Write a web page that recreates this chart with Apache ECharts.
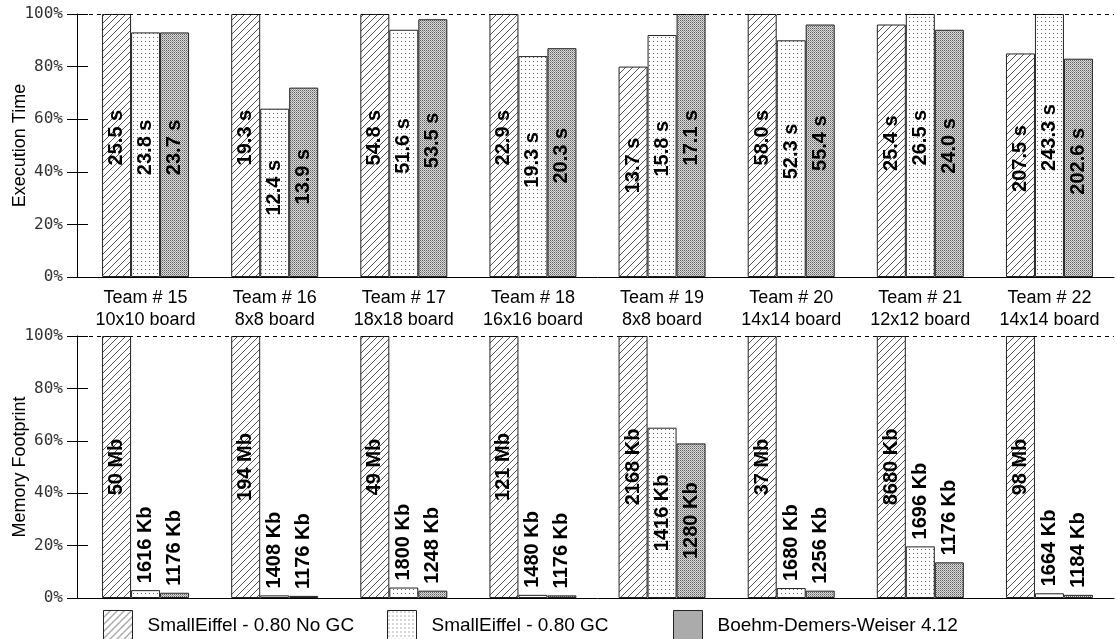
<!DOCTYPE html>
<html>
<head>
<meta charset="utf-8">
<script src="https://cdn.jsdelivr.net/npm/echarts@6/dist/echarts.min.js"></script>
<style>
html,body{margin:0;padding:0;background:#fff;}
#chart{width:1117px;height:639px;}
</style>
</head>
<body>
<div id="chart"></div>
<script>
// ---------- data ----------
const teams = ['Team # 15','Team # 16','Team # 17','Team # 18','Team # 19','Team # 20','Team # 21','Team # 22'];
const boards = ['10x10 board','8x8 board','18x18 board','16x16 board','8x8 board','14x14 board','12x12 board','14x14 board'];
const seriesNames = ['SmallEiffel - 0.80 No GC','SmallEiffel - 0.80 GC','Boehm-Demers-Weiser 4.12'];

// Execution time (% of slowest in group)
const timeNoGC = [100,100,100,100,80,100,96,85];
const timeGC   = [93,64,94,84,92,90,100,100];
const timeBDW  = [93,72,98,87,100,96,94,83];
const timeLabelNoGC = ['25.5 s','19.3 s','54.8 s','22.9 s','13.7 s','58.0 s','25.4 s','207.5 s'];
const timeLabelGC   = ['23.8 s','12.4 s','51.6 s','19.3 s','15.8 s','52.3 s','26.5 s','243.3 s'];
const timeLabelBDW  = ['23.7 s','13.9 s','53.5 s','20.3 s','17.1 s','55.4 s','24.0 s','202.6 s'];

// Memory footprint (% of largest in group)
const memNoGC = [100,100,100,100,100,100,100,100];
const memGC   = [3,1,4,1.2,65,3.8,19.7,1.8];
const memBDW  = [2,0.8,2.8,1,59,2.8,13.6,1.2];
const memLabelNoGC = ['50 Mb','194 Mb','49 Mb','121 Mb','2168 Kb','37 Mb','8680 Kb','98 Mb'];
const memLabelGC   = ['1616 Kb','1408 Kb','1800 Kb','1480 Kb','1416 Kb','1680 Kb','1696 Kb','1664 Kb'];
const memLabelBDW  = ['1176 Kb','1176 Kb','1248 Kb','1176 Kb','1280 Kb','1256 Kb','1176 Kb','1184 Kb'];

// ---------- layout ----------
const GRID_LEFT = 81, GRID_RIGHT = 3, AXIS_OFFSET = 4;
const GRIDS = [{ top: 14, height: 263 }, { top: 336, height: 262 }];

// ---------- patterns ----------
function tile(w, h, draw) {
  const c = document.createElement('canvas');
  c.width = w; c.height = h;
  const ctx = c.getContext('2d');
  draw(ctx);
  return c;
}
const hatch = tile(7, 7, ctx => {
  ctx.fillStyle = '#fff'; ctx.fillRect(0, 0, 7, 7);
  ctx.fillStyle = '#555';
  for (let i = 0; i < 7; i++) ctx.fillRect(i, 6 - i, 1, 1);
});
const dots = tile(4, 4, ctx => {
  ctx.fillStyle = '#fff'; ctx.fillRect(0, 0, 4, 4);
  ctx.fillStyle = '#666'; ctx.fillRect(1, 1, 1, 1);
});
const dense = tile(2, 2, ctx => {
  ctx.fillStyle = '#dadada'; ctx.fillRect(0, 0, 2, 2);
  ctx.fillStyle = '#606060'; ctx.fillRect(0, 0, 1, 1);
  ctx.fillStyle = '#9a9a9a'; ctx.fillRect(1, 1, 1, 1);
});
const patterns = [hatch, dots, dense];

const FONT = 'Liberation Sans, Arial, sans-serif';
const catLabels = teams.map((t, i) => t + '\n' + boards[i]);

function barSeries(idx, gridIdx, values, labels) {
  const s = {
    name: seriesNames[idx],
    type: 'bar',
    xAxisIndex: gridIdx,
    yAxisIndex: gridIdx * 2,
    barWidth: 29,
    barGap: '0%',
    itemStyle: {
      color: { image: patterns[idx], repeat: 'repeat' },
      borderColor: '#222',
      borderWidth: 1
    },
    data: values.map((v, i) => {
      let label;
      if (gridIdx === 0) {
        label = { show: true, position: ['50%', '47%'], rotate: 90, align: 'center', verticalAlign: 'middle' };
      } else if (v >= 50) {
        label = { show: true, position: 'inside', rotate: 90, align: 'center', verticalAlign: 'middle' };
      } else {
        label = { show: true, position: 'top', rotate: 90, distance: 7, align: 'left', verticalAlign: 'middle' };
      }
      return { value: v, label: label };
    }),
    label: {
      show: true,
      formatter: p => labels[p.dataIndex],
      fontFamily: FONT,
      fontWeight: 'bold',
      fontSize: 20,
      color: '#000'
    }
  };
  if (idx === 0) {
    s.markLine = {
      silent: true, symbol: 'none', animation: false,
      label: { show: false },
      lineStyle: { color: '#000', width: 1, type: [4, 4] },
      data: [{ yAxis: 100 }]
    };
  }
  return s;
}

function yAxes(gridIdx, name) {
  return [{
    gridIndex: gridIdx, type: 'value', position: 'left', min: 0, max: 100, interval: 20, offset: AXIS_OFFSET,
    name: name, nameLocation: 'middle', nameGap: 48, nameMoveOverlap: false,
    nameTextStyle: { fontFamily: FONT, fontSize: 18, color: '#000' },
    axisLine: { show: true, onZero: false, lineStyle: { color: '#000', width: 1 } },
    axisTick: { show: true, length: 10, lineStyle: { color: '#000' } },
    axisLabel: { margin: 14, formatter: '{value}%', fontFamily: 'DejaVu Sans Mono', fontSize: 16, color: '#333' },
    splitLine: { show: false }
  }, {
    gridIndex: gridIdx, type: 'value', position: 'left', min: 0, max: 100, interval: 20, offset: AXIS_OFFSET,
    axisLine: { show: false },
    axisTick: { show: true, inside: true, length: 11, lineStyle: { color: '#000' } },
    axisLabel: { show: false },
    splitLine: { show: false }
  }];
}

const legendLefts = [103, 387, 673];
const option = {
  animation: false,
  backgroundColor: '#fff',
  grid: GRIDS.map(g => ({ left: GRID_LEFT, right: GRID_RIGHT, top: g.top, height: g.height,
    containLabel: false, outerBoundsMode: 'none' })),
  // vertical y-axis lines at the axis position (grid left minus axis offset)
  graphic: GRIDS.map(g => ({
    type: 'line', silent: true, z: 50,
    shape: { x1: GRID_LEFT - AXIS_OFFSET + 0.5, y1: g.top, x2: GRID_LEFT - AXIS_OFFSET + 0.5, y2: g.top + g.height },
    style: { stroke: '#000', lineWidth: 1 }
  })),
  xAxis: [
    { gridIndex: 0, type: 'category', data: catLabels,
      axisLine: { lineStyle: { color: '#000' } }, axisTick: { show: false },
      axisLabel: { interval: 0, margin: 10, fontFamily: FONT, fontSize: 18, lineHeight: 22, color: '#000' } },
    { gridIndex: 1, type: 'category', data: catLabels,
      axisLine: { lineStyle: { color: '#000' } }, axisTick: { show: false },
      axisLabel: { show: false } }
  ],
  yAxis: [...yAxes(0, 'Execution Time'), ...yAxes(1, 'Memory Footprint')],
  legend: seriesNames.map((n, i) => ({
    data: [n], left: legendLefts[i], top: 610, orient: 'horizontal', padding: 0,
    icon: 'rect', itemWidth: 29, itemHeight: 31,
    itemStyle: { borderColor: '#222', borderWidth: 1 },
    textStyle: { fontFamily: FONT, fontSize: 19, color: '#000', padding: [0, 0, 0, 10] },
    selectedMode: false
  })),
  series: [
    barSeries(0, 0, timeNoGC, timeLabelNoGC),
    barSeries(1, 0, timeGC, timeLabelGC),
    barSeries(2, 0, timeBDW, timeLabelBDW),
    barSeries(0, 1, memNoGC, memLabelNoGC),
    barSeries(1, 1, memGC, memLabelGC),
    barSeries(2, 1, memBDW, memLabelBDW)
  ]
};
const chart = echarts.init(document.getElementById('chart'), null, { renderer: 'canvas' });
chart.setOption(option);
</script>
</body>
</html>
